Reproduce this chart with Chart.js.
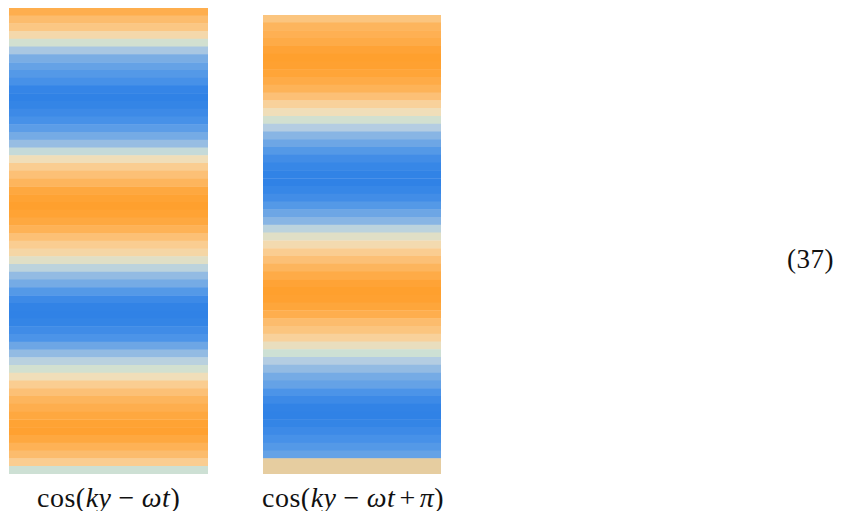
<!DOCTYPE html>
<html>
<head>
<meta charset="utf-8">
<script src="https://cdn.jsdelivr.net/npm/chart.js@4"></script>
<style>
  html, body { margin: 0; padding: 0; background: #fff; }
  body { width: 843px; height: 511px; position: relative; overflow: hidden; }
  .panel { position: absolute; }
  .lbl { position: absolute; font-family: "Liberation Serif", "DejaVu Serif", serif; font-size: 28px; color: #111; white-space: nowrap; line-height: 1; letter-spacing: 0.5px; }
  .lbl i { font-style: italic; }
  .op { padding: 0 7px; }
  .op2 { padding: 0 4px; }
</style>
</head>
<body>
<div class="panel" style="left:9px; top:8px; width:199px; height:466px;"><canvas id="chartLeft"></canvas></div>
<div class="panel" style="left:263px; top:15px; width:178px; height:459px;"><canvas id="chartRight"></canvas></div>
<div class="lbl" id="labelLeft" style="left:37px; top:484px;">cos(<i>ky</i><span class="op">−</span><i>ωt</i>)</div>
<div class="lbl" id="labelRight" style="left:262px; top:484px;">cos(<i>ky</i><span class="op">−</span><i>ωt</i><span class="op2">+</span><i>π</i>)</div>
<div class="lbl" id="eqNo" style="left:787px; top:246px; font-size:27px;">(37)</div>
<script>
// 왼쪽: cos(ky - wt) 밴드 값 (위 -> 아래), +1 = 주황, -1 = 파랑
var leftBands = [
    0.75, 0.55, 0.42, 0.22, 0.02, -0.2, -0.42, -0.55, -0.65, -0.75,
    -0.92, -0.97, -0.93, -0.85, -0.75, -0.6, -0.45, -0.28, -0.05, 0.15,
    0.35, 0.5, 0.65, 0.85, 0.93, 0.97, 0.93, 0.85, 0.7, 0.5,
    0.35, 0.25, 0.08, -0.1, -0.3, -0.45, -0.65, -0.85, -0.95, -0.97,
    -0.93, -0.82, -0.7, -0.5, -0.3, -0.12, 0.02, 0.15, 0.35, 0.5,
    0.65, 0.75, 0.85, 0.93, 0.95, 0.85, 0.7, 0.55, 0.35, 0.0
];

// 오른쪽: cos(ky - wt + pi) 밴드 값, null = 아래쪽 여백 띠
var rightBands = [
    0.45, 0.65, 0.72, 0.8, 0.92, 0.97, 0.95, 0.9, 0.8, 0.68,
    0.5, 0.3, 0.15, 0.02, -0.15, -0.35, -0.5, -0.65, -0.8, -0.9,
    -0.96, -0.97, -0.9, -0.8, -0.65, -0.5, -0.35, -0.1, 0.08, 0.2,
    0.35, 0.5, 0.65, 0.8, 0.92, 0.97, 0.95, 0.88, 0.75, 0.55,
    0.45, 0.3, 0.12, 0.0, -0.15, -0.3, -0.45, -0.55, -0.7, -0.85,
    -0.95, -0.97, -0.93, -0.85, -0.75, -0.65, -0.55, null, null
];

// 컬러맵
var colorStops = [
    [-1.0, [45, 128, 230]],
    [-0.7, [76, 148, 232]],
    [-0.4, [125, 175, 228]],
    [-0.15, [180, 205, 226]],
    [0.0, [205, 224, 212]],
    [0.15, [240, 222, 185]],
    [0.35, [250, 205, 145]],
    [0.6, [253, 184, 100]],
    [1.0, [255, 158, 42]]
];
var padColor = "rgb(230, 205, 160)";

var toColor = function(v) {
    if (v === null) return padColor;
    for (var i = 1; i < colorStops.length; i++) {
        if (v <= colorStops[i][0]) {
            var a = colorStops[i - 1], b = colorStops[i];
            var t = (v - a[0]) / (b[0] - a[0]);
            var c = a[1].map(function(x, k) { return Math.round(x + (b[1][k] - x) * t); });
            return "rgb(" + c.join(",") + ")";
        }
    }
    return "rgb(255,158,42)";
};

var _setChart = function(id, bands) {
    var el = document.getElementById(id).getContext("2d");
    return new Chart(el, {
        type: 'bar',
        data: {
            labels: bands.map(function(v, i) { return i; }),
            datasets: [{
                data: bands.map(function() { return 1; }),
                backgroundColor: bands.map(toColor),
                borderWidth: 0,
                barPercentage: 1.06,
                categoryPercentage: 1
            }]
        },
        options: {
            indexAxis: 'y',
            responsive: true,
            maintainAspectRatio: false,
            animation: false,
            layout: { padding: 0 },
            plugins: { legend: { display: false }, tooltip: { enabled: false } },
            scales: {
                x: { display: false, min: 0, max: 1 },
                y: { display: false }
            }
        }
    });
};

var myChartLeft = _setChart("chartLeft", leftBands);
var myChartRight = _setChart("chartRight", rightBands);
</script>
</body>
</html>
